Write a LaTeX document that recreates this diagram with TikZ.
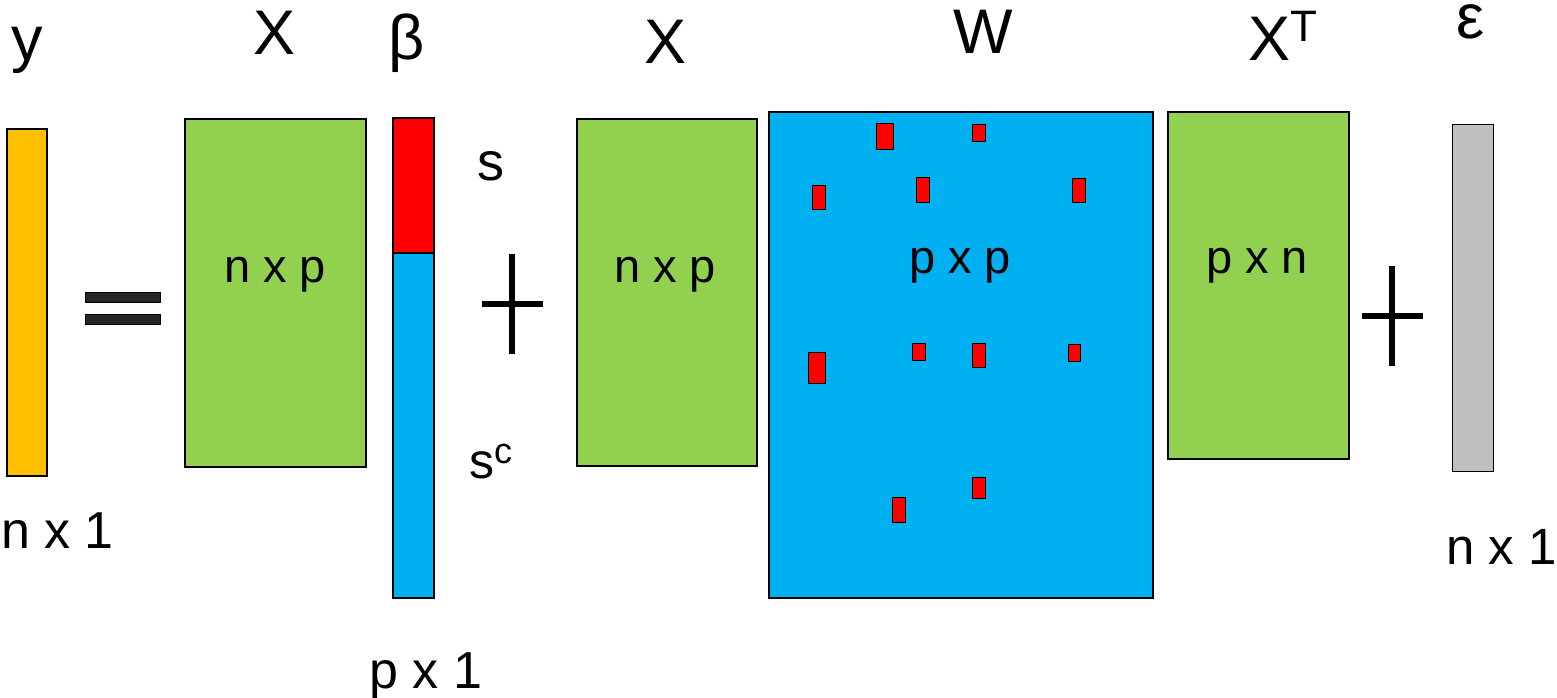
\documentclass[tikz,border=0pt]{standalone}
\usepackage{fontspec}
\setmainfont{Liberation Sans}
\definecolor{vecy}{HTML}{FFC000}
\definecolor{matx}{HTML}{92D050}
\definecolor{matw}{HTML}{00B0F0}
\definecolor{sel}{HTML}{FF0000}
\definecolor{noise}{HTML}{BFBFBF}
\definecolor{eqbar}{HTML}{262626}
\tikzset{
  block/.style={draw=black, line width=1.6pt, inner sep=0pt, anchor=north west},
  cell/.style={draw=black, line width=1.4pt, fill=sel, inner sep=0pt, anchor=north west},
  bigsym/.style={font=\fontsize{63}{63}\selectfont, inner sep=0pt, anchor=base},
  dimtxt/.style={font=\fontsize{52}{52}\selectfont, inner sep=0pt, anchor=base},
  intxt/.style={font=\fontsize{47}{47}\selectfont, inner sep=0pt, anchor=base},
  optxt/.style={font=\fontsize{54}{54}\selectfont, inner sep=0pt, anchor=base},
  opline/.style={line width=6.5pt, black},
}
\begin{document}
\begin{tikzpicture}[x=1pt,y=-1pt]
\useasboundingbox (0,0) rectangle (1557,697);

% response vector y
\node[block, fill=vecy, minimum width=40pt, minimum height=347pt] (yv) at (6,128) {};
\node[bigsym] (ylab) at (27,60) {y};
\node[dimtxt, anchor=base west] (ydim) at (1,548) {n x 1};

% equals sign
\node[block, line width=1.2pt, fill=eqbar, minimum width=75pt, minimum height=10pt] (eqa) at (85,292) {};
\node[block, line width=1.2pt, fill=eqbar, minimum width=75pt, minimum height=10pt] (eqb) at (85,314) {};

% design matrix X
\node[block, fill=matx, minimum width=181pt, minimum height=348pt] (xa) at (184,118) {};
\node[bigsym] (xalab) at (275,54) {X};
\node[intxt] (xadim) at (275,282) {n x p};

% coefficient vector beta: support s on top, complement below
\node[block, fill=sel, minimum width=41pt, minimum height=135pt] (bs) at (392,117) {};
\node[block, fill=matw, minimum width=41pt, minimum height=345pt] (bc) at (392,252) {};
\node[bigsym] (blab) at (407,59) {β};
\node[optxt] (slab) at (491,180) {s};
\node[font=\fontsize{50}{50}\selectfont, inner sep=0pt, anchor=base west] (sclab) at (469,478)
  {s\raisebox{15pt}{\fontsize{36}{36}\selectfont c}};
\node[dimtxt] (bdim) at (426,688) {p x 1};

% first plus
\coordinate (pa) at (512,304);
\draw[opline] ([yshift=-50pt]pa) -- ([yshift=50pt]pa);
\draw[opline] ([xshift=-30pt]pa) -- ([xshift=31pt]pa);

% second X
\node[block, fill=matx, minimum width=180pt, minimum height=347pt] (xb) at (576,118) {};
\node[bigsym] (xblab) at (666,63) {X};
\node[intxt] (xbdim) at (665,282) {n x p};

% weight matrix W with sparse entries
\node[block, fill=matw, minimum width=384pt, minimum height=486pt] (w) at (768,111) {};
\node[bigsym] (wlab) at (983,53) {W};
\node[intxt] (wdim) at (960,273) {p x p};
\foreach \cx/\cy/\cw/\ch [count=\i] in {
  876/123/17/26, 972/124/13/17, 812/185/13/24, 916/177/13/25, 1072/178/13/24,
  808/352/17/31, 912/343/13/17, 972/343/13/24, 1068/344/12/17,
  972/477/13/21, 892/497/13/25}
  \node[cell, minimum width=\cw pt, minimum height=\ch pt] (c\i) at (\cx,\cy) {};

% transposed X
\node[block, fill=matx, minimum width=181pt, minimum height=347pt] (xt) at (1167,111) {};
\node[bigsym] (xtlab) at (1283,60) {X\raisebox{0.3em}{\fontsize{44}{44}\selectfont T}};
\node[intxt] (xtdim) at (1257,273) {p x n};

% second plus
\coordinate (pb) at (1392,316);
\draw[opline] ([yshift=-50pt]pb) -- ([yshift=50pt]pb);
\draw[opline] ([xshift=-30pt]pb) -- ([xshift=31pt]pb);

% noise vector epsilon
\node[block, line width=1.4pt, fill=noise, minimum width=41pt, minimum height=347pt] (ev) at (1452,124) {};
\node[bigsym, text height=31pt, text depth=0pt] (elab) at (1471,38) {ε};
\node[font=\fontsize{51}{51}\selectfont, inner sep=0pt, anchor=base east] (edim) at (1557,564) {n x 1};
\end{tikzpicture}
\end{document}
